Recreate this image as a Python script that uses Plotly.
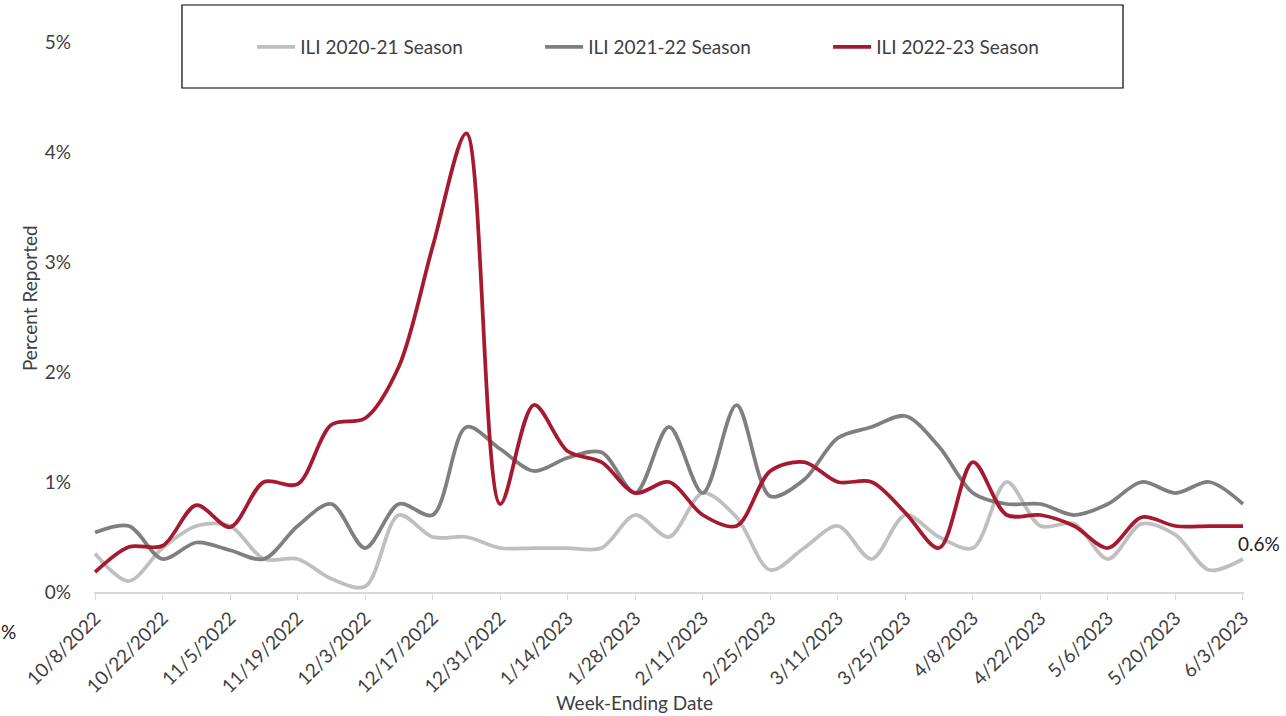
import plotly.graph_objects as go
import datetime as dt

start = dt.date(2022, 10, 8)
weeks = [start + dt.timedelta(weeks=i) for i in range(35)]
week_labels = [f"{d.month}/{d.day}/{d.year}" for d in weeks]

ili_2020_21 = [0.35, 0.10, 0.40, 0.60, 0.60, 0.30, 0.30, 0.12, 0.05, 0.70,
               0.50, 0.50, 0.40, 0.40, 0.40, 0.40, 0.70, 0.50, 0.90, 0.68,
               0.20, 0.40, 0.60, 0.30, 0.70, 0.50, 0.40, 1.00, 0.60, 0.62,
               0.30, 0.62, 0.52, 0.20, 0.30]
ili_2021_22 = [0.54, 0.60, 0.30, 0.45, 0.38, 0.30, 0.60, 0.80, 0.40, 0.80,
               0.70, 1.50, 1.30, 1.10, 1.22, 1.27, 0.90, 1.50, 0.90, 1.70,
               0.87, 1.02, 1.40, 1.50, 1.60, 1.32, 0.90, 0.80, 0.80, 0.70,
               0.80, 1.00, 0.90, 1.00, 0.80]
ili_2022_23 = [0.18, 0.41, 0.42, 0.79, 0.59, 1.00, 0.98, 1.52, 1.58, 2.05,
               3.14, 4.17, 0.80, 1.70, 1.28, 1.18, 0.90, 1.00, 0.70, 0.60,
               1.10, 1.18, 1.00, 1.00, 0.72, 0.40, 1.18, 0.70, 0.70, 0.60,
               0.40, 0.68, 0.60, 0.60, 0.60]

series = [
    ("ILI 2020-21 Season", ili_2020_21, "#BFBFBF"),
    ("ILI 2021-22 Season", ili_2021_22, "#7F7F7F"),
    ("ILI 2022-23 Season", ili_2022_23, "#A6192E"),
]

font_family = "Lato, Open Sans, sans-serif"
text_color = "#404040"

fig = go.Figure()
for name, vals, color in series:
    fig.add_trace(go.Scatter(
        x=list(range(len(weeks))), y=[v / 100 for v in vals], name=name,
        mode="lines", line=dict(color=color, width=3.75, shape="spline", smoothing=0.9),
    ))

fig.add_annotation(x=34, y=ili_2022_23[-1] / 100, text=f"{ili_2022_23[-1]:.1f}%",
                   showarrow=False, xanchor="left", yanchor="top", xshift=-7, yshift=-4,
                   font=dict(size=19, color="#202020", family=font_family))

# partially visible label at the left edge
fig.add_annotation(xref="paper", yref="paper", x=-0.0817, y=-0.0727, text="%",
                   showarrow=False, xanchor="left", yanchor="middle", xshift=-1,
                   font=dict(size=19, color="#202020", family=font_family))

# axis titles
fig.add_annotation(xref="paper", yref="paper", x=0.4696, y=-0.2018, text="Week-Ending Date",
                   showarrow=False, xanchor="center", yanchor="middle",
                   font=dict(size=19, color=text_color, family=font_family))
fig.add_annotation(xref="paper", yref="paper", x=-0.0565, y=0.5345, text="Percent Reported",
                   showarrow=False, xanchor="center", yanchor="middle", textangle=-90,
                   font=dict(size=19, color=text_color, family=font_family))

fig.add_shape(type="rect", xref="paper", yref="paper", x0=0.0765, x1=0.8948, y0=0.9164, y1=1.0673,
              line=dict(color="black", width=1.2), fillcolor="rgba(0,0,0,0)")

tick_idx = list(range(0, 35, 2))
fig.update_layout(
    width=1286, height=716,
    margin=dict(l=94, r=42, t=42, b=124),
    paper_bgcolor="white", plot_bgcolor="white",
    font=dict(family=font_family, color=text_color, size=19),
    showlegend=True,
    legend=dict(orientation="h", x=0.1375, y=0.991, xanchor="left", yanchor="middle",
                entrywidth=235, entrywidthmode="pixels",
                font=dict(size=19, color=text_color), bgcolor="rgba(0,0,0,0)",
                itemwidth=38),
    xaxis=dict(
        range=[-0.03, 34.03], automargin=False,
        tickmode="array", tickvals=tick_idx, ticktext=[week_labels[i] for i in tick_idx],
        tickangle=-45, showgrid=False, zeroline=False,
        showline=True, linecolor="#D9D9D9", linewidth=1.5,
        ticks="outside", ticklen=6, tickcolor="#D9D9D9",
        tickfont=dict(size=19, color=text_color),
    ),
    yaxis=dict(
        range=[0, 0.05], automargin=False,
        tickvals=[0, 0.01, 0.02, 0.03, 0.04, 0.05], tickformat=".0%",
        showgrid=False, zeroline=False, showline=False, ticks="",
        ticklabelstandoff=22,
        tickfont=dict(size=19, color=text_color),
    ),
)

fig.write_html("out.html", config={"displayModeBar": False},
               post_script="document.body.style.margin='0px';")
